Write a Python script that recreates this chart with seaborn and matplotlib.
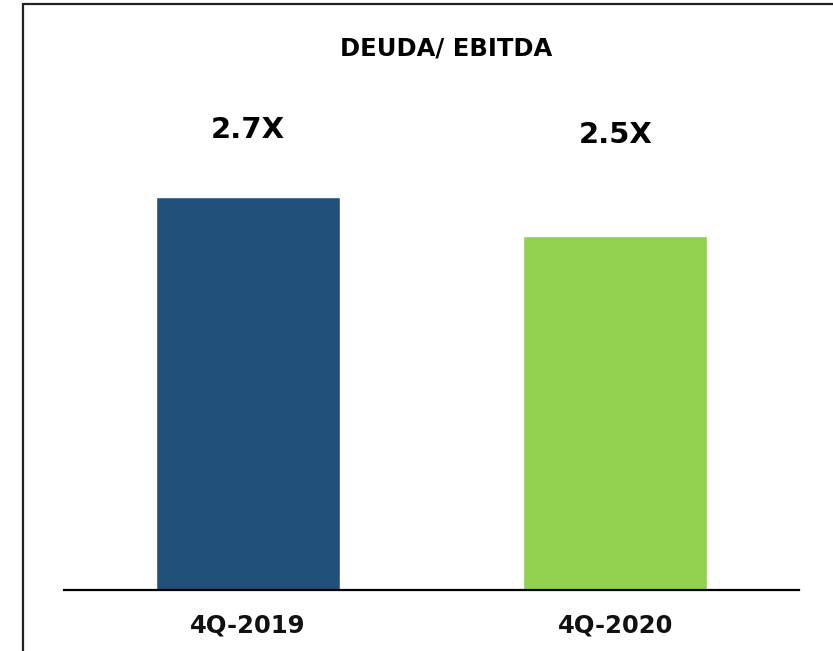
import matplotlib
matplotlib.use("Agg")
import matplotlib.pyplot as plt
import seaborn as sns
import pandas as pd
from matplotlib.lines import Line2D

# data
periods = ["4Q-2019", "4Q-2020"]
ratios = [2.73, 2.46]
bar_colors = ["#21507A", "#92D050"]

df = pd.DataFrame({"period": periods, "ratio": ratios})

sns.set_theme(style="white")
plt.rcParams["font.family"] = ["DejaVu Sans"]

fig = plt.figure(figsize=(8.33, 6.51), dpi=100)
ax = fig.add_axes([64 / 833, 1 - 590 / 651, (799 - 64) / 833, (590 - 80) / 651])

sns.barplot(data=df, x="period", y="ratio", hue="period", palette=bar_colors,
            width=0.5, saturation=1, legend=False, ax=ax)

ax.set_xlim(-0.5, 1.5)
ax.set_ylim(0, 3.54)
ax.set_xlabel("")
ax.set_ylabel("")
ax.set_yticks([])
for s in ["top", "right", "left"]:
    ax.spines[s].set_visible(False)
ax.spines["bottom"].set_color("black")
ax.spines["bottom"].set_linewidth(1.6)
ax.tick_params(axis="x", length=0, pad=17, labelsize=17.5)
for t in ax.get_xticklabels():
    t.set_fontweight("bold")
    t.set_color("#111111")

# value labels sit near the top of the plot area
label_y = [0.902, 0.893]
for i, v in enumerate(ratios):
    ax.text(i, label_y[i], f"{v:.1f}X", transform=ax.get_xaxis_transform(),
            ha="center", va="center", fontsize=21, fontweight="bold", color="black")

fig.text(446 / 833, 1 - 48 / 651, "DEUDA/ EBITDA", ha="center", va="center",
         fontsize=17.5, fontweight="bold", color="black")

# frame: only left and top edges show
x0 = 22.5 / 833
y0 = 1 - 3.5 / 651
fig.add_artist(Line2D([x0, x0], [0, y0], transform=fig.transFigure,
                      color="#222222", linewidth=1.6))
fig.add_artist(Line2D([x0, 1], [y0, y0], transform=fig.transFigure,
                      color="#222222", linewidth=1.6))

fig.savefig("out.png", dpi=100)
